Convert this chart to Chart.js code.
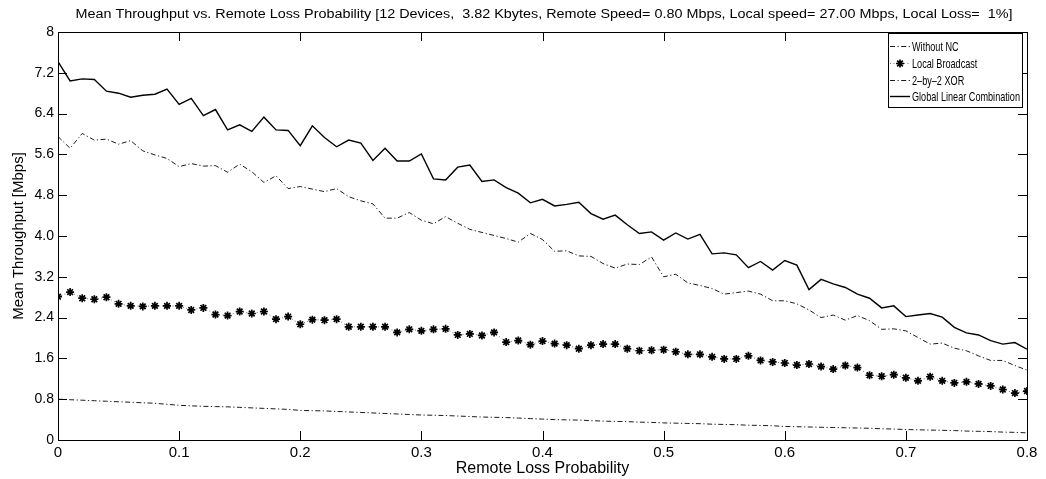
<!DOCTYPE html>
<html>
<head>
<meta charset="utf-8">
<script src="https://cdn.jsdelivr.net/npm/chart.js@4"></script>
<style>
  html, body { margin: 0; padding: 0; background: #fff; }
  #wrap { width: 1046px; height: 479px; position: relative; }
</style>
</head>
<body>
<div id="wrap"><canvas id="tput"></canvas></div>
<script>
var FONT = "'Liberation Sans', Arial, Helvetica, sans-serif";

var chartTitle = "Mean Throughput vs. Remote Loss Probability [12 Devices,  3.82 Kbytes, Remote Speed= 0.80 Mbps, Local speed= 27.00 Mbps, Local Loss=  1%]";

var lossProb = [
  0, 0.01, 0.02, 0.03, 0.04, 0.05, 0.06, 0.07, 0.08, 0.09,
  0.10, 0.11, 0.12, 0.13, 0.14, 0.15, 0.16, 0.17, 0.18, 0.19,
  0.20, 0.21, 0.22, 0.23, 0.24, 0.25, 0.26, 0.27, 0.28, 0.29,
  0.30, 0.31, 0.32, 0.33, 0.34, 0.35, 0.36, 0.37, 0.38, 0.39,
  0.40, 0.41, 0.42, 0.43, 0.44, 0.45, 0.46, 0.47, 0.48, 0.49,
  0.50, 0.51, 0.52, 0.53, 0.54, 0.55, 0.56, 0.57, 0.58, 0.59,
  0.60, 0.61, 0.62, 0.63, 0.64, 0.65, 0.66, 0.67, 0.68, 0.69,
  0.70, 0.71, 0.72, 0.73, 0.74, 0.75, 0.76, 0.77, 0.78, 0.79,
  0.80
];

var withoutNC = [
  0.80, 0.79, 0.78, 0.77, 0.76, 0.75, 0.74, 0.73, 0.72, 0.70,
  0.68, 0.67, 0.66, 0.655, 0.65, 0.64, 0.63, 0.62, 0.61, 0.60,
  0.58, 0.575, 0.57, 0.56, 0.55, 0.54, 0.53, 0.52, 0.51, 0.50,
  0.49, 0.485, 0.48, 0.47, 0.46, 0.45, 0.445, 0.44, 0.43, 0.42,
  0.41, 0.40, 0.395, 0.39, 0.38, 0.37, 0.365, 0.36, 0.35, 0.345,
  0.335, 0.33, 0.325, 0.32, 0.31, 0.305, 0.30, 0.29, 0.285, 0.28,
  0.265, 0.26, 0.255, 0.25, 0.245, 0.24, 0.235, 0.23, 0.22, 0.215,
  0.205, 0.20, 0.195, 0.19, 0.185, 0.175, 0.17, 0.165, 0.155, 0.15,
  0.14
];

var localBroadcast = [
  2.81, 2.90, 2.78, 2.76, 2.80, 2.67, 2.63, 2.62, 2.63, 2.63,
  2.63, 2.55, 2.59, 2.46, 2.44, 2.52, 2.48, 2.52, 2.37, 2.42,
  2.27, 2.36, 2.35, 2.37, 2.22, 2.22, 2.22, 2.22, 2.11, 2.17,
  2.14, 2.17, 2.18, 2.06, 2.08, 2.05, 2.11, 1.92, 1.95, 1.87,
  1.94, 1.89, 1.86, 1.79, 1.86, 1.88, 1.88, 1.79, 1.75, 1.76,
  1.77, 1.73, 1.68, 1.68, 1.63, 1.59, 1.59, 1.65, 1.56, 1.53,
  1.51, 1.47, 1.49, 1.44, 1.39, 1.46, 1.42, 1.27, 1.25, 1.28,
  1.22, 1.16, 1.24, 1.16, 1.12, 1.14, 1.10, 1.06, 0.99, 0.92,
  0.96
];

var xor2by2 = [
  5.95, 5.72, 6.01, 5.88, 5.90, 5.80, 5.87, 5.67, 5.59, 5.52,
  5.36, 5.42, 5.37, 5.38, 5.25, 5.41, 5.26, 5.05, 5.18, 4.93,
  4.97, 4.92, 4.87, 4.93, 4.77, 4.69, 4.63, 4.35, 4.35, 4.46,
  4.31, 4.24, 4.38, 4.25, 4.13, 4.07, 4.01, 3.95, 3.88, 4.05,
  3.93, 3.70, 3.71, 3.61, 3.60, 3.46, 3.37, 3.45, 3.44, 3.59,
  3.20, 3.25, 3.08, 3.03, 2.97, 2.86, 2.89, 2.92, 2.86, 2.73,
  2.73, 2.67, 2.55, 2.40, 2.45, 2.35, 2.44, 2.34, 2.17, 2.18,
  2.14, 2.01, 1.88, 1.90, 1.80, 1.75, 1.65, 1.56, 1.56, 1.46,
  1.37
];

var globalLinear = [
  7.42, 7.04, 7.08, 7.07, 6.84, 6.80, 6.72, 6.76, 6.78, 6.88,
  6.58, 6.70, 6.36, 6.48, 6.08, 6.18, 6.05, 6.33, 6.08, 6.07,
  5.77, 6.16, 5.93, 5.75, 5.88, 5.82, 5.48, 5.72, 5.47, 5.47,
  5.61, 5.12, 5.10, 5.35, 5.39, 5.07, 5.10, 4.95, 4.84, 4.65,
  4.72, 4.59, 4.62, 4.66, 4.44, 4.33, 4.41, 4.22, 4.05, 4.08,
  3.92, 4.06, 3.94, 4.03, 3.65, 3.67, 3.63, 3.38, 3.50, 3.33,
  3.52, 3.43, 2.95, 3.15, 3.06, 2.99, 2.86, 2.78, 2.59, 2.63,
  2.42, 2.45, 2.48, 2.41, 2.21, 2.10, 2.06, 1.95, 1.88, 1.91,
  1.78
];

var xTicks = [0, 0.1, 0.2, 0.3, 0.4, 0.5, 0.6, 0.7, 0.8];
var xTickLabels = ["0", "0.1", "0.2", "0.3", "0.4", "0.5", "0.6", "0.7", "0.8"];
var yTicks = [0, 0.8, 1.6, 2.4, 3.2, 4.0, 4.8, 5.6, 6.4, 7.2, 8];
var yTickLabels = ["0", "0.8", "1.6", "2.4", "3.2", "4.0", "4.8", "5.6", "6.4", "7.2", "8"];

function points(ys) {
  return lossProb.map(function (x, i) {
    return { x: x, y: ys[i] };
  });
}

var DASH_DOT = [5, 2.5, 1.2, 2.5];

var datasets = [
  {
    label: "Without NC",
    data: points(withoutNC),
    borderColor: "#000",
    borderWidth: 0.9,
    borderDash: DASH_DOT,
    pointRadius: 0,
  },
  {
    label: "Local Broadcast",
    data: points(localBroadcast),
    borderColor: "#666",
    borderWidth: 0.9,
    borderDash: [1, 2.5],
    pointStyle: "star",
    pointRadius: 4,
    pointBorderWidth: 1.7,
    pointBorderColor: "#000",
    pointBackgroundColor: "#000",
  },
  {
    label: "2\u2013by\u20132 XOR",
    data: points(xor2by2),
    borderColor: "#000",
    borderWidth: 0.9,
    borderDash: DASH_DOT,
    pointRadius: 0,
  },
  {
    label: "Global Linear Combination",
    data: points(globalLinear),
    borderColor: "#000",
    borderWidth: 1.4,
    pointRadius: 0,
  },
];

// box, inward ticks on all four sides, title and the legend inside the axes
var frame = {
  id: "frame",
  afterDraw: function (chart) {
    var ctx = chart.ctx;
    var a = chart.chartArea;
    var xs = chart.scales.x;
    var ys = chart.scales.y;
    var TICK = 9;

    ctx.save();
    ctx.strokeStyle = "#000";
    ctx.lineWidth = 1;
    ctx.strokeRect(Math.round(a.left) + 0.5, Math.round(a.top) + 0.5,
      Math.round(a.right - a.left), Math.round(a.bottom - a.top));

    ctx.beginPath();
    xTicks.forEach(function (v) {
      var px = Math.round(xs.getPixelForValue(v)) + 0.5;
      ctx.moveTo(px, a.bottom);
      ctx.lineTo(px, a.bottom - TICK);
      ctx.moveTo(px, a.top);
      ctx.lineTo(px, a.top + TICK);
    });
    yTicks.forEach(function (v) {
      var py = Math.round(ys.getPixelForValue(v)) + 0.5;
      ctx.moveTo(a.left, py);
      ctx.lineTo(a.left + TICK, py);
      ctx.moveTo(a.right, py);
      ctx.lineTo(a.right - TICK, py);
    });
    ctx.stroke();

    // title, drawn a touch narrow like the rest of the figure text
    ctx.fillStyle = "#000";
    ctx.font = "12px " + FONT;
    ctx.textBaseline = "middle";
    ctx.textAlign = "center";
    var tw = ctx.measureText(chartTitle).width;
    var sx = 937 / tw;
    ctx.save();
    ctx.translate(544, 15);
    ctx.scale(sx, 1);
    ctx.fillText(chartTitle, 0, 0);
    ctx.restore();

    // legend
    var L = { left: 888, top: 33, right: 1022, bottom: 107 };
    ctx.fillStyle = "#fff";
    ctx.fillRect(L.left, L.top, L.right - L.left, L.bottom - L.top);
    ctx.strokeStyle = "#000";
    ctx.lineWidth = 1;
    ctx.strokeRect(L.left + 0.5, L.top + 0.5, L.right - L.left, L.bottom - L.top);

    var rows = [46, 63, 80, 96];
    ctx.font = "13.5px " + FONT;
    ctx.textAlign = "left";
    var widest = ctx.measureText(datasets[3].label).width;
    var tx = 108 / widest;
    datasets.forEach(function (ds, i) {
      var y = rows[i] + 0.5;
      ctx.save();
      ctx.strokeStyle = ds.borderColor;
      ctx.lineWidth = ds.borderWidth;
      ctx.setLineDash(ds.borderDash || []);
      ctx.beginPath();
      ctx.moveTo(890, y);
      ctx.lineTo(910, y);
      ctx.stroke();
      ctx.restore();
      if (ds.pointStyle) {
        ctx.save();
        ctx.strokeStyle = ds.pointBorderColor;
        ctx.fillStyle = ds.pointBackgroundColor;
        ctx.lineWidth = ds.pointBorderWidth;
        Chart.helpers.drawPoint(ctx, { pointStyle: ds.pointStyle, radius: ds.pointRadius, rotation: 0, borderWidth: ds.pointBorderWidth }, 900, y);
        ctx.restore();
      }
      ctx.save();
      ctx.fillStyle = "#000";
      ctx.translate(912, rows[i] + 1);
      ctx.scale(tx, 1);
      ctx.fillText(ds.label, 0, 0);
      ctx.restore();
    });
    ctx.restore();
  },
};

function fixedTicks(values) {
  return function (scale) {
    scale.ticks = values.map(function (v) {
      return { value: v };
    });
  };
}

new Chart(document.getElementById("tput"), {
  type: "line",
  data: { datasets: datasets },
  plugins: [frame],
  options: {
    responsive: true,
    maintainAspectRatio: false,
    animation: false,
    layout: { padding: { left: 0, top: 32, right: 19, bottom: 0 } },
    plugins: {
      legend: { display: false },
      tooltip: { enabled: false },
    },
    scales: {
      x: {
        type: "linear",
        min: 0,
        max: 0.8,
        afterBuildTicks: fixedTicks(xTicks),
        afterFit: function (scale) {
          scale.height = 39;
        },
        grid: { display: false, drawTicks: false },
        border: { display: false },
        ticks: {
          padding: 4,
          color: "#000",
          maxRotation: 0,
          autoSkip: false,
          font: { family: FONT, size: 15 },
          callback: function (v, i) {
            return xTickLabels[i];
          },
        },
        title: {
          display: true,
          text: "Remote Loss Probability",
          color: "#000",
          font: { family: FONT, size: 16 },
          padding: { top: 0, bottom: 1 },
        },
      },
      y: {
        min: 0,
        max: 8,
        afterBuildTicks: fixedTicks(yTicks),
        afterFit: function (scale) {
          scale.width = 58;
        },
        grid: { display: false, drawTicks: false },
        border: { display: false },
        ticks: {
          padding: 4,
          color: "#000",
          autoSkip: false,
          font: { family: FONT, size: 14 },
          callback: function (v, i) {
            return yTickLabels[i];
          },
        },
        title: {
          display: true,
          text: "Mean Throughput [Mbps]",
          color: "#000",
          font: { family: FONT, size: 15 },
          padding: { top: 10, bottom: 0 },
        },
      },
    },
  },
});
</script>
</body>
</html>
